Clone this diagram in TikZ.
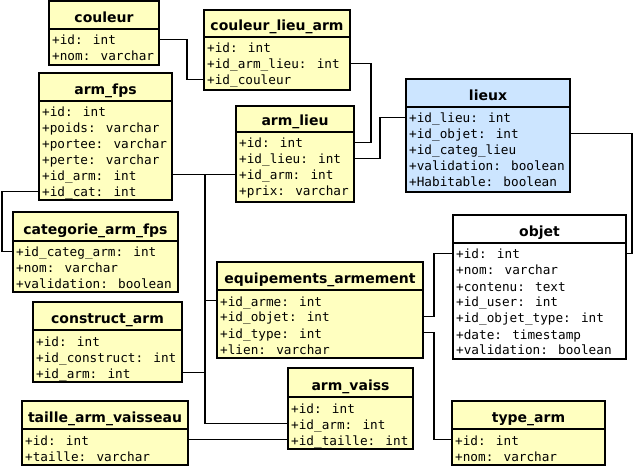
\documentclass[tikz,border=0pt]{standalone}
\usepackage{fontspec}
\newfontfamily\titlef{DejaVu Sans}
\newfontfamily\monof{DejaVu Sans Mono}
\definecolor{tyellow}{HTML}{FFFFC0}
\definecolor{tblue}{HTML}{CCE5FF}
\tikzset{
  box/.style={draw=black, line width=2pt},
  conn/.style={draw=black, line width=1.9pt},
  ttl/.style={font=\titlef\bfseries\fontsize{14}{16}\selectfont, anchor=base, inner sep=0},
  attr/.style={font=\monof\fontsize{12.7}{15}\selectfont, anchor=base west, inner sep=0}
}
% name, x1, y1, x2, y2, ydiv, title, fill, rows
\newcommand\umltbl[9]{%
  \node[box, fill=#8, inner sep=0, outer sep=0, anchor=north west,
        minimum width={#4-#2}, minimum height={#5-#3}] (#1) at (#2,#3) {};
  \draw[box] (#2,#6) -- (#4,#6);
  \node[ttl] (#1-t) at ({(#2+#4)/2},{#6-6.5}) {#7};
  \foreach \r [count=\i] in {#9} {
    \node[attr] (#1-\i) at ({#2+3},{#6+16*\i}) {\r};
    \coordinate (#1-r\i) at ({#2},{#6+16*\i-5.5});
  }%
}
\begin{document}
\begin{tikzpicture}[x=1pt,y=-1pt]
\fill[white] (0,0) rectangle (635,473);
\useasboundingbox (0,0) rectangle (635,473);

\umltbl{couleur}{49}{1}{159}{65}{29}{couleur}{tyellow}{+id: int,+nom: varchar}
\umltbl{armfps}{39}{73}{172}{200}{101}{arm\_fps}{tyellow}{+id: int,+poids: varchar,+portee: varchar,+perte: varchar,+id\_arm: int,+id\_cat: int}
\umltbl{cla}{204}{10}{350}{90}{37}{couleur\_lieu\_arm}{tyellow}{+id: int,+id\_arm\_lieu: int,+id\_couleur}
\umltbl{armlieu}{236}{106}{354}{202}{132}{arm\_lieu}{tyellow}{+id: int,+id\_lieu: int,+id\_arm: int,+prix: varchar}
\umltbl{lieux}{406}{79}{570}{192}{107}{lieux}{tblue}{+id\_lieu: int,+id\_objet: int,+id\_categ\_lieu,+validation: boolean,+Habitable: boolean}
\umltbl{objet}{453}{215}{626}{359}{243}{objet}{white}{+id: int,+nom: varchar,+contenu: text,+id\_user: int,+id\_objet\_type: int,+date: timestamp,+validation: boolean}
\umltbl{typearm}{452}{401}{605}{465}{429}{type\_arm}{tyellow}{+id: int,+nom: varchar}
\umltbl{cat}{13}{212}{178}{292}{241}{categorie\_arm\_fps}{tyellow}{+id\_categ\_arm: int,+nom: varchar,+validation: boolean}
\umltbl{construct}{33}{302}{182}{382}{330}{construct\_arm}{tyellow}{+id: int,+id\_construct: int,+id\_arm: int}
\umltbl{taille}{22}{401}{188}{465}{429}{taille\_arm\_vaisseau}{tyellow}{+id: int,+taille: varchar}
\umltbl{equip}{217}{262}{423}{358}{290}{equipements\_armement}{tyellow}{+id\_arme: int,+id\_objet: int,+id\_type: int,+lien: varchar}
\umltbl{armvaiss}{288}{368}{413}{449}{397}{arm\_vaiss}{tyellow}{+id: int,+id\_arm: int,+id\_taille: int}

\draw[conn] (couleur.east |- couleur-r1) -- ++(28,0) |- (cla.west |- cla-r3);
\draw[conn] (cla.east |- cla-r2) -- ++(21,0) |- (armlieu.east |- armlieu-r1);
\draw[conn] (armlieu.east |- armlieu-r2) -- ++(26,0) |- (lieux.west |- lieux-r1);
\draw[conn] (lieux.east |- lieux-r2) -- ++(62,0) |- (objet.east |- objet-r1);
\draw[conn] (armfps.east |- armlieu-r3) -- (armlieu.west |- armlieu-r3);
\draw[conn] (armfps.east |- armlieu-r3) -- ++(33,0) |- (equip.west |- equip-r1);
\draw[conn] (armfps.east |- armlieu-r3) -- ++(33,0) |- (armvaiss.west |- armvaiss-r2);
\draw[conn] (construct.east |- construct-r3) -- ++(23,0) |- (armvaiss.west |- armvaiss-r2);
\draw[conn] (armfps.west |- armfps-r6) -- ++(-37,0) |- (cat.west |- cat-r1);
\draw[conn] (taille.east |- armvaiss-r3) -- (armvaiss.west |- armvaiss-r3);
\draw[conn] (equip.east |- equip-r2) -- ++(11,0) |- (objet.west |- objet-r1);
\draw[conn] (equip.east |- equip-r3) -- ++(11,0) |- (typearm.west |- typearm-r1);
\end{tikzpicture}
\end{document}
